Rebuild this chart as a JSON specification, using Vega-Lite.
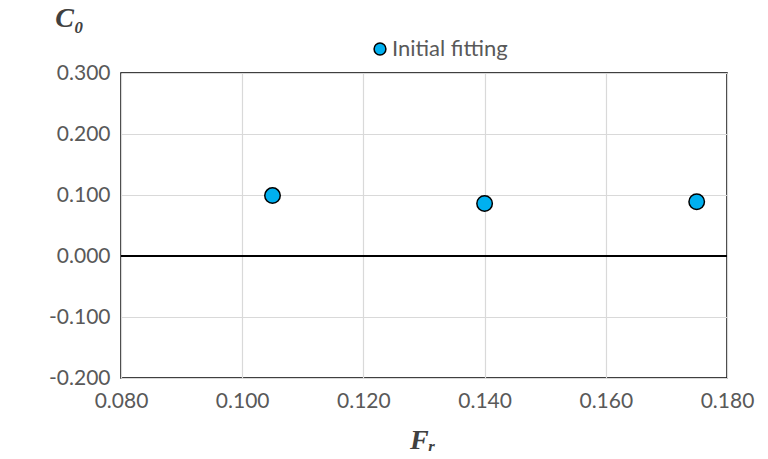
{
  "$schema": "https://vega.github.io/schema/vega-lite/v6.json",
  "width": 606,
  "height": 305,
  "autosize": {"type": "none"},
  "padding": {"left": 121, "top": 73, "right": 41, "bottom": 81},
  "background": "white",
  "config": {
    "view": {"stroke": "black", "strokeWidth": 1.5},
    "axis": {
      "labelFont": "Lato",
      "labelFontSize": 21,
      "labelColor": "#595959",
      "domain": false,
      "ticks": false,
      "gridColor": "#D9D9D9",
      "gridWidth": 1.2,
      "titleFont": "Liberation Serif",
      "titleFontStyle": "italic",
      "titleFontWeight": "bold",
      "titleFontSize": 28,
      "titleColor": "#404040"
    }
  },
  "layer": [
    {
      "data": {"values": [{"y": 0}]},
      "mark": {"type": "rule", "color": "black", "strokeWidth": 2},
      "encoding": {"y": {"field": "y", "type": "quantitative", "scale": {"domain": [-0.2, 0.3]}}}
    },
    {
      "data": {
        "values": [
          {"Fr": 0.105, "C0": 0.099, "series": "Initial fitting"},
          {"Fr": 0.140, "C0": 0.086, "series": "Initial fitting"},
          {"Fr": 0.175, "C0": 0.089, "series": "Initial fitting"}
        ]
      },
      "mark": {"type": "point", "filled": true, "opacity": 1, "size": 240, "stroke": "black", "strokeWidth": 1.5},
      "encoding": {
        "x": {
          "field": "Fr",
          "type": "quantitative",
          "scale": {"domain": [0.08, 0.18], "nice": false, "zero": false},
          "axis": {
            "values": [0.08, 0.1, 0.12, 0.14, 0.16, 0.18],
            "labelExpr": "replace(format(datum.value, '.3f'), '−', '-')",
            "labelFlush": false,
            "labelPadding": 12,
            "title": "Fᵣ",
            "titleX": 301,
            "titleY": 70,
            "titleAlign": "center",
            "titleBaseline": "alphabetic"
          }
        },
        "y": {
          "field": "C0",
          "type": "quantitative",
          "scale": {"domain": [-0.2, 0.3], "nice": false, "zero": false},
          "axis": {
            "values": [-0.2, -0.1, 0, 0.1, 0.2, 0.3],
            "labelExpr": "replace(format(datum.value, '.3f'), '−', '-')",
            "labelFlush": false,
            "labelPadding": 11,
            "title": "C₀",
            "titleAngle": 0,
            "titleX": -52,
            "titleY": -47,
            "titleAlign": "center",
            "titleBaseline": "alphabetic"
          }
        },
        "color": {
          "field": "series",
          "type": "nominal",
          "scale": {"range": ["#00B0F0"]},
          "legend": {
            "title": null,
            "orient": "none",
            "legendX": 248,
            "legendY": -35,
            "symbolType": "circle",
            "symbolSize": 140,
            "symbolStrokeColor": "black",
            "symbolStrokeWidth": 1.5,
            "symbolOpacity": 1,
            "labelFont": "Lato",
            "labelFontSize": 22,
            "labelColor": "#595959",
            "labelOffset": 1
          }
        }
      }
    }
  ]
}
